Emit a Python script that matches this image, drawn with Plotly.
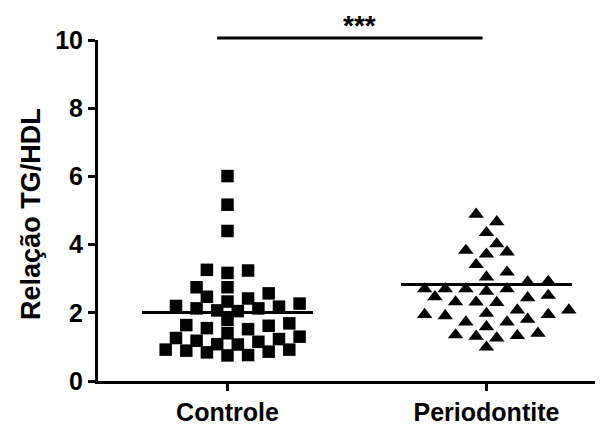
import plotly.graph_objects as go

# ---------------- data ----------------
categories = ["Controle", "Periodontite"]

controle = [6.01, 5.17, 4.40, 3.24, 3.17, 3.26, 2.75, 2.75, 2.57, 2.42,
            2.47, 2.27, 2.20, 2.33, 2.13, 2.05, 2.07, 2.13, 2.18, 1.79,
            1.69, 1.62, 1.52, 1.55, 1.64, 1.40, 1.26, 1.15, 1.08, 1.07,
            1.18, 1.23, 1.30, 0.92, 0.89, 0.84, 0.75, 0.76, 0.86, 0.92]

periodontite = [4.89, 4.67, 4.35, 4.02, 3.83, 3.72, 3.78, 3.41, 3.19, 3.05,
                2.90, 2.92, 2.70, 2.70, 2.70, 2.63, 2.70, 2.51, 2.44, 2.47,
                2.31, 2.32, 2.30, 2.08, 2.08, 1.95, 1.91, 1.95, 1.98, 1.73,
                1.73, 1.81, 1.59, 1.35, 1.31, 1.26, 1.33, 1.40, 0.99]

group_lines = [2.01, 2.83]          # horizontal line drawn for each group
y_ticks = [0, 2, 4, 6, 8, 10]
significance = "***"

# ---------------- layout geometry ----------------
# the page body has an 8px margin, so the figure is drawn 8px down/right
OFF = 8
W, H = 603 - OFF, 426 - OFF
ML, MR, MT, MB = 98 - OFF, 0, 40 - OFF, 426 - 386
XR = [-0.5, 1.45]
YR = [0, 10]
PW = W - ML - MR
PH = H - MT - MB
px_per_x = PW / (XR[1] - XR[0])
px_per_y = PH / (YR[1] - YR[0])


def swarm(vals, step_px=10.3, dist_px=13.0):
    """Greedy beeswarm: offsets (in x units) so markers do not overlap."""
    order = sorted(range(len(vals)), key=lambda i: vals[i])
    placed = []
    ks = [0] * len(vals)
    cands = [0]
    for n in range(1, 30):
        cands += [n, -n]
    for i in order:
        v = vals[i]
        chosen = cands[-1]
        for k in cands:
            ok = all(((k - k2) * step_px) ** 2 + ((v - v2) * px_per_y) ** 2 >= dist_px ** 2
                     for k2, v2 in placed)
            if ok:
                chosen = k
                break
        placed.append((chosen, v))
        ks[i] = chosen
    return [k * step_px / px_per_x for k in ks]


groups = [controle, periodontite]
symbols = ["square", "triangle-up"]
sizes = [12.5, 13.5]

fig = go.Figure()
for gi, vals in enumerate(groups):
    offs = swarm(vals)
    fig.add_trace(go.Scatter(
        x=[gi + o for o in offs], y=vals, mode="markers",
        marker=dict(symbol=symbols[gi], size=sizes[gi], color="black",
                    line=dict(width=0)),
        cliponaxis=False, showlegend=False, hoverinfo="y"))
    fig.add_trace(go.Scatter(
        x=[gi - 0.33, gi + 0.33], y=[group_lines[gi]] * 2, mode="lines",
        line=dict(color="black", width=3), showlegend=False, hoverinfo="skip"))

# significance bar
fig.add_shape(type="line", xref="x", yref="paper",
              x0=-0.04, x1=0.985, y0=1 + 2 / PH, y1=1 + 2 / PH,
              line=dict(color="black", width=3))
fig.add_annotation(text=significance, xref="x", yref="paper",
                   x=0.51, y=1 + (MT - 0.5) / PH, showarrow=False, borderpad=0,
                   font=dict(family="Liberation Sans, Arial", size=28,
                             color="black", weight="bold"),
                   xanchor="center", yanchor="top")

# y title
fig.add_annotation(text="Relação TG/HDL", xref="paper", yref="paper",
                   x=-(ML - (31 - OFF)) / PW, y=0.49, textangle=-90,
                   showarrow=False, xanchor="center", yanchor="middle",
                   font=dict(family="Liberation Sans, Arial", size=27,
                             color="black", weight="bold"))

axis_font = dict(family="Liberation Sans, Arial", size=25, color="black", weight="bold")
fig.update_layout(
    width=W, height=H,
    margin=dict(l=ML, r=MR, t=MT, b=MB),
    paper_bgcolor="white", plot_bgcolor="white",
    xaxis=dict(range=XR, tickvals=[0, 1], ticktext=categories,
               showline=True, linecolor="black", linewidth=3,
               ticks="outside", ticklen=7, tickwidth=3, tickcolor="black",
               showgrid=False, zeroline=False, tickfont=axis_font, fixedrange=True),
    yaxis=dict(range=YR, tickvals=y_ticks,
               showline=True, linecolor="black", linewidth=3,
               ticks="outside", ticklen=7, tickwidth=3, tickcolor="black",
               showgrid=False, zeroline=False, tickfont=axis_font, fixedrange=True),
)

fig.write_html("out.html")
